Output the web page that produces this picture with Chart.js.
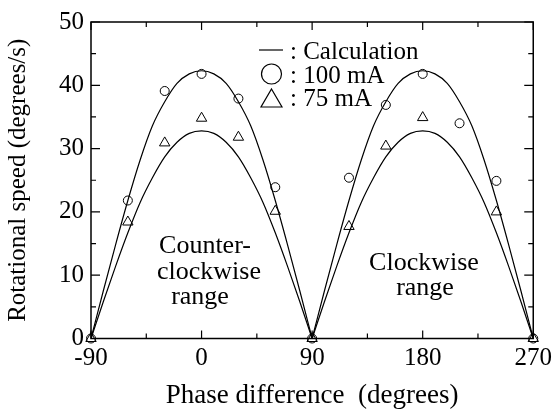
<!DOCTYPE html>
<html>
<head>
<meta charset="utf-8">
<script src="https://cdn.jsdelivr.net/npm/chart.js@4.4.0/dist/chart.umd.min.js"></script>
<style>
  html, body { margin: 0; padding: 0; background: #fff; }
  #wrap { width: 557px; height: 412px; }
</style>
</head>
<body>
<div id="wrap"><canvas id="speedChart" width="557" height="412"></canvas></div>
<script>
// ---- measured rotational speed ----
const phaseMeas = [-90, -60, -30, 0, 30, 60, 90, 120, 150, 180, 210, 240, 270];
const speed100 = [0, 21.8, 39.1, 41.8, 37.9, 23.9, 0, 25.4, 36.9, 41.8, 34.0, 24.9, 0];
const speed75  = [0, 18.4, 30.9, 34.8, 31.8, 20.1, 0, 17.7, 30.4, 34.9, null, 20.0, 0];

// ---- calculated curves (one arch per range, every 10 deg) ----
const phaseCcw = [-90, -80, -70, -60, -50, -40, -30, -20, -10, 0, 10, 20, 30, 40, 50, 60, 70, 80, 90];
const phaseCw  = [90, 100, 110, 120, 130, 140, 150, 160, 170, 180, 190, 200, 210, 220, 230, 240, 250, 260, 270];
const calc100 = [0, 7.5, 14.8, 21.8, 28.2, 33.6, 37.4, 40.3, 41.8, 42.3, 41.8, 40.3, 37.4, 33.6, 28.2, 21.8, 14.8, 7.5, 0];
const calc75  = [0, 5.8, 11.4, 16.7, 21.5, 25.4, 28.7, 31.0, 32.4, 32.8, 32.4, 31.0, 28.7, 25.4, 21.5, 16.7, 11.4, 5.8, 0];

// ---- axes ----
const xTicks = [-90, 0, 90, 180, 270];
const xMinor = [-45, 45, 135, 225];
const yTicks = [0, 10, 20, 30, 40, 50];
const yMinor = [5, 15, 25, 35, 45];

const FONT = "'Liberation Serif', 'Times New Roman', serif";

function pts(xs, ys) {
  return xs.map((x, i) => ({ x: x, y: ys[i] })).filter(p => p.y !== null);
}

function curve(xs, ys) {
  return {
    type: 'line',
    data: pts(xs, ys),
    borderColor: '#000',
    borderWidth: 1.2,
    pointRadius: 0,
    fill: false,
    cubicInterpolationMode: 'monotone'
  };
}

function markers(ys, style, r) {
  return {
    type: 'scatter',
    data: pts(phaseMeas, ys),
    pointStyle: style,
    pointRadius: r,
    pointBorderWidth: 1,
    pointBorderColor: '#000',
    pointBackgroundColor: 'rgba(0,0,0,0)',
    clip: false
  };
}

// inward ticks on all four sides plus the frame
const frameTicks = {
  id: 'frameTicks',
  afterDatasetsDraw(chart) {
    const { ctx, chartArea: a, scales } = chart;
    const xs = scales.x, ys = scales.y;
    ctx.save();
    ctx.strokeStyle = '#000';
    ctx.lineWidth = 1.2;
    ctx.beginPath();
    const xt = (v, len) => {
      const px = xs.getPixelForValue(v);
      ctx.moveTo(px, a.bottom); ctx.lineTo(px, a.bottom - len);
      ctx.moveTo(px, a.top); ctx.lineTo(px, a.top + len);
    };
    const yt = (v, len) => {
      const py = ys.getPixelForValue(v);
      ctx.moveTo(a.left, py); ctx.lineTo(a.left + len, py);
      ctx.moveTo(a.right, py); ctx.lineTo(a.right - len, py);
    };
    xTicks.forEach(v => xt(v, 8));
    xMinor.forEach(v => xt(v, 5));
    yTicks.forEach(v => yt(v, 9));
    yMinor.forEach(v => yt(v, 5));
    ctx.stroke();
    ctx.lineWidth = 1.5;
    ctx.strokeRect(a.left, a.top, a.right - a.left, a.bottom - a.top);
    ctx.restore();
  }
};

// legend and range labels
const notes = {
  id: 'notes',
  afterDraw(chart) {
    const ctx = chart.ctx;
    ctx.save();
    ctx.fillStyle = '#000';
    ctx.strokeStyle = '#000';
    ctx.font = '25px ' + FONT;
    ctx.textAlign = 'left';
    ctx.textBaseline = 'alphabetic';

    ctx.lineWidth = 1.2;
    ctx.beginPath();
    ctx.moveTo(259, 50); ctx.lineTo(283, 50);
    ctx.stroke();
    ctx.fillText(': Calculation', 290, 59);

    ctx.beginPath();
    ctx.arc(271.5, 74, 10, 0, Math.PI * 2);
    ctx.stroke();
    ctx.fillText(': 100 mA', 290, 83);

    ctx.beginPath();
    ctx.moveTo(271.5, 89);
    ctx.lineTo(282, 107);
    ctx.lineTo(261, 107);
    ctx.closePath();
    ctx.stroke();
    ctx.fillText(': 75 mA', 290, 106);

    ctx.font = '26px ' + FONT;
    ctx.textAlign = 'center';
    ctx.fillText('Counter-', 205, 253);
    ctx.fillText('clockwise', 209, 279);
    ctx.fillText('range', 200, 304);
    ctx.fillText('Clockwise', 424, 270);
    ctx.fillText('range', 425, 295);
    ctx.restore();
  }
};

new Chart(document.getElementById('speedChart'), {
  data: {
    datasets: [
      curve(phaseCcw, calc100),
      curve(phaseCcw, calc75),
      curve(phaseCw, calc100),
      curve(phaseCw, calc75),
      markers(speed100, 'circle', 4.5),
      markers(speed75, 'triangle', 6)
    ]
  },
  options: {
    responsive: false,
    animation: false,
    devicePixelRatio: 1,
    layout: { padding: { top: 19, right: 22, left: 0, bottom: 0 } },
    plugins: { legend: { display: false }, tooltip: { enabled: false } },
    scales: {
      x: {
        type: 'linear',
        min: -90,
        max: 270,
        afterBuildTicks: s => { s.ticks = xTicks.map(v => ({ value: v })); },
        afterFit: s => { s.height = 73.5; },
        grid: { display: false, drawTicks: false },
        border: { display: false },
        ticks: { color: '#000', padding: 5, maxRotation: 0, font: { family: FONT, size: 25 } },
        title: {
          display: true,
          text: 'Phase difference  (degrees)',
          color: '#000',
          padding: { top: 0, bottom: 0 },
          font: { family: FONT, size: 27, lineHeight: 1.2 }
        }
      },
      y: {
        min: 0,
        max: 50,
        afterBuildTicks: s => { s.ticks = yTicks.map(v => ({ value: v })); },
        afterFit: s => { s.width = 91; },
        grid: { display: false, drawTicks: false },
        border: { display: false },
        ticks: { color: '#000', padding: 7, font: { family: FONT, size: 25 } },
        title: {
          display: true,
          text: 'Rotational speed (degrees/s)',
          color: '#000',
          padding: { top: 3, bottom: 0 },
          font: { family: FONT, size: 25, lineHeight: 1.2 }
        }
      }
    }
  },
  plugins: [frameTicks, notes]
});
</script>
</body>
</html>
